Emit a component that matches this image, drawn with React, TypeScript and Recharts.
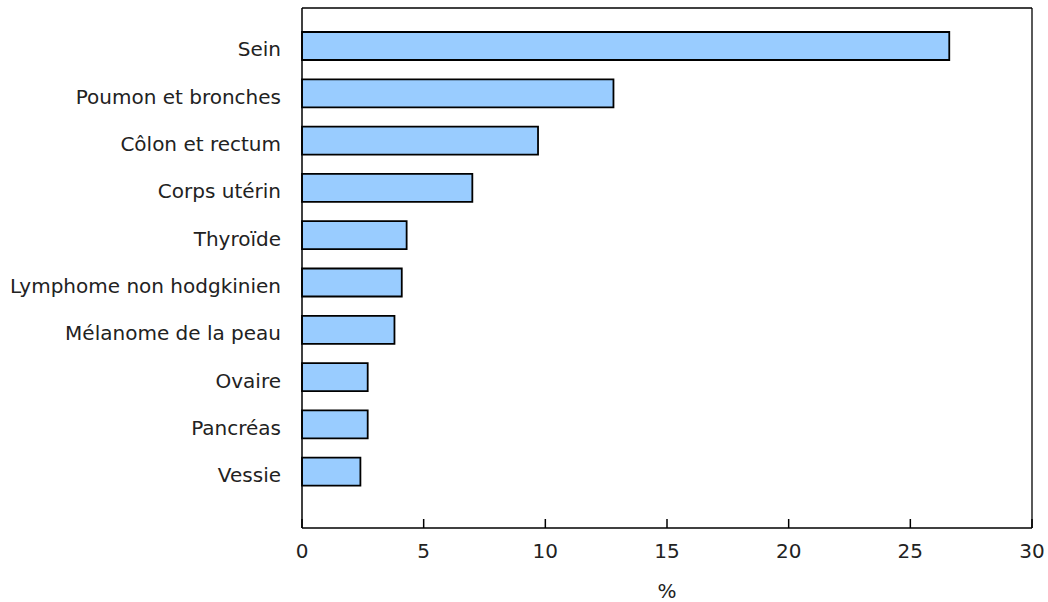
import React from 'react';
import { BarChart, Bar, XAxis, YAxis, CartesianGrid } from 'recharts';

const categories = [
  'Sein',
  'Poumon et bronches',
  'Côlon et rectum',
  'Corps utérin',
  'Thyroïde',
  'Lymphome non hodgkinien',
  'Mélanome de la peau',
  'Ovaire',
  'Pancréas',
  'Vessie',
];
const values = [26.6, 12.8, 9.7, 7.0, 4.3, 4.1, 3.8, 2.7, 2.7, 2.4];
const xTicks = [0, 5, 10, 15, 20, 25, 30];
const axisTitle = '%';

const data = categories.map((name, i) => ({ name, value: values[i] }));

const FONT = '"DejaVu Sans", Verdana, sans-serif';
const FS = 20;

const XTick = (props: any) => {
  const { x, y, payload } = props;
  return (
    <g>
      <line x1={x} x2={x} y1={y - 9} y2={y} stroke="#000" strokeWidth={1.5} />
      <text x={x} y={y + 30} textAnchor="middle" fontFamily={FONT} fontSize={FS} fill="#222">
        {payload.value}
      </text>
    </g>
  );
};

const YTick = (props: any) => {
  const { x, y, payload } = props;
  return (
    <text x={x} y={y + 3.7} dy="0.355em" textAnchor="end" fontFamily={FONT} fontSize={FS} fill="#222">
      {payload.value}
    </text>
  );
};

export default function App() {
  return (
    <div style={{ position: 'absolute', left: 0, top: 0, width: 1048, height: 602, background: '#fff' }}>
      <BarChart
        width={1048}
        height={602}
        data={data}
        layout="vertical"
        margin={{ top: 8, right: 16, bottom: 0, left: 0 }}
      >
        <CartesianGrid
          stroke="#000"
          strokeWidth={1.3}
          horizontalCoordinatesGenerator={({ offset }: any) => [offset.top]}
          verticalCoordinatesGenerator={({ offset }: any) => [offset.left + offset.width]}
        />
        <XAxis
          type="number"
          dataKey="value"
          domain={[0, 30]}
          ticks={xTicks}
          interval={0}
          height={74}
          tickSize={0}
          tickMargin={0}
          tickLine={false}
          axisLine={{ stroke: '#000', strokeWidth: 1.5 }}
          tick={<XTick />}
          label={{ value: axisTitle, position: 'insideBottom', offset: 4, fontFamily: FONT, fontSize: FS, fill: '#222' }}
        />
        <YAxis
          type="category"
          dataKey="name"
          width={302}
          padding={{ top: 14, bottom: 33 }}
          tickSize={0}
          tickMargin={21}
          tickLine={false}
          interval={0}
          axisLine={{ stroke: '#000', strokeWidth: 1.5 }}
          tick={<YTick />}
        />
        <Bar
          dataKey="value"
          fill="#99CCFF"
          stroke="#000"
          strokeWidth={1.8}
          barSize={28}
          isAnimationActive={false}
        />
      </BarChart>
    </div>
  );
}
